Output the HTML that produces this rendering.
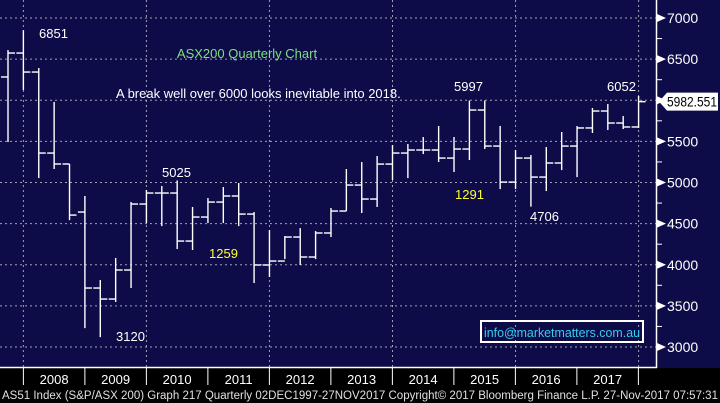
<!DOCTYPE html>
<html><head><meta charset="utf-8">
<style>
html,body{margin:0;padding:0;background:#000;}
svg{display:block;font-family:"Liberation Sans",sans-serif;}
</style></head>
<body>
<svg id="chart" width="720" height="403" viewBox="0 0 720 403" xmlns="http://www.w3.org/2000/svg">
<rect x="0" y="0" width="720" height="368" fill="#0e0c48"/>
<rect x="0" y="368" width="720" height="35" fill="#000"/>
<g id="grid"></g>
<g id="bars"></g>
<g id="axis"></g>
<text x="247" y="58" fill="#7fe07f" font-size="13" text-anchor="middle">ASX200 Quarterly Chart</text>
<text x="116" y="98" fill="#ffffff" font-size="13">A break well over 6000 looks inevitable into 2018.</text>
<text x="39" y="38" fill="#fff" font-size="13">6851</text>
<text x="162" y="177" fill="#fff" font-size="13">5025</text>
<text x="116" y="341" fill="#fff" font-size="13">3120</text>
<text x="209" y="258" fill="#ffff33" font-size="13">1259</text>
<text x="454" y="91" fill="#fff" font-size="13">5997</text>
<text x="455" y="199" fill="#ffff33" font-size="13">1291</text>
<text x="530" y="221" fill="#fff" font-size="13">4706</text>
<text x="607" y="91" fill="#fff" font-size="13">6052</text>
<rect x="481" y="321" width="162" height="21" fill="none" stroke="#fff" stroke-width="2"/>
<text x="484" y="337" fill="#33ccee" font-size="13" textLength="156" lengthAdjust="spacingAndGlyphs">info@marketmatters.com.au</text>
<text x="2" y="399" fill="#e0e0e0" font-size="11.5" textLength="716" lengthAdjust="spacingAndGlyphs">AS51 Index (S&amp;P/ASX 200) Graph 217  Quarterly 02DEC1997-27NOV2017  Copyright© 2017 Bloomberg Finance L.P.  27-Nov-2017 07:57:31</text>
</svg>
<script>
const quarters = ["2007Q3","2007Q4","2008Q1","2008Q2","2008Q3","2008Q4","2009Q1","2009Q2","2009Q3","2009Q4","2010Q1","2010Q2","2010Q3","2010Q4","2011Q1","2011Q2","2011Q3","2011Q4","2012Q1","2012Q2","2012Q3","2012Q4","2013Q1","2013Q2","2013Q3","2013Q4","2014Q1","2014Q2","2014Q3","2014Q4","2015Q1","2015Q2","2015Q3","2015Q4","2016Q1","2016Q2","2016Q3","2016Q4","2017Q1","2017Q2","2017Q3","2017Q4"];
const openVals  = [6283,6574,6343,5358,5225,4641,3717,3583,3936,4738,4872,4872,4288,4580,4762,4836,4616,3997,4045,4337,4094,4386,4653,4969,4799,5224,5358,5395,5395,5297,5407,5881,5443,5005,5297,5066,5237,5443,5663,5869,5723,5675];
const highVals  = [6610,6851,6392,5979,5225,4836,3814,4082,4763,4909,4957,5025,4702,4811,4945,4994,4641,4422,4349,4446,4410,4690,5164,5249,5322,5456,5468,5553,5687,5553,5997,5997,5687,5395,5334,5431,5614,5687,5906,5954,5808,6052];
const lowVals   = [5492,6125,5054,5164,4543,3230,3120,3547,3717,4507,4470,4191,4179,4507,4507,4470,3778,3851,4069,3997,4069,4337,4653,4629,4702,5030,5054,5346,5249,5127,5273,5407,4920,4920,4706,4896,5151,5066,5602,5638,5650,5663];
const closeVals = [6574,6343,5358,5225,4604,3717,3583,3936,4738,4872,4872,4288,4580,4762,4836,4616,3997,4045,4337,4094,4386,4653,4969,4799,5224,5358,5395,5395,5297,5407,5881,5443,5005,5297,5066,5237,5443,5663,5869,5723,5675,5983];
const yTicks = [3000,3500,4000,4500,5000,5500,6000,6500,7000];
const yearLabels = ["2008","2009","2010","2011","2012","2013","2014","2015","2016","2017"];
const lastValue = "5982.551";

const NS="http://www.w3.org/2000/svg";
const xQ = i => 8 + i*15.38;
const yV = v => 18 + (7000 - v)*0.08225;
function mk(tag, attrs, parent){const e=document.createElementNS(NS,tag);for(const k in attrs)e.setAttribute(k,attrs[k]);parent.appendChild(e);return e;}
const grid=document.getElementById('grid'), bars=document.getElementById('bars'), axis=document.getElementById('axis');

yTicks.forEach(v=>{
  const l=mk('line',{x1:0,x2:656,y1:yV(v),y2:yV(v),stroke:'#a0a0b0','stroke-width':1,'stroke-dasharray':'2,3'},grid);
  
  
});
for(let i=1;i<quarters.length;i+=8){
  const l=mk('line',{x1:xQ(i),x2:xQ(i),y1:0,y2:368,stroke:'#a0a0b0','stroke-width':1,'stroke-dasharray':'2,3'},grid);
  
  
}

quarters.forEach((q,i)=>{
  const x=xQ(i);
  const g=mk('g',{stroke:'#fff','stroke-width':1.4},bars);
  
  
  mk('line',{x1:x,x2:x,y1:yV(highVals[i]),y2:yV(lowVals[i])},g);
  mk('line',{x1:x-7,x2:x,y1:yV(openVals[i]),y2:yV(openVals[i])},g);
  mk('line',{x1:x,x2:x+7,y1:yV(closeVals[i]),y2:yV(closeVals[i])},g);
});

const ya=mk('line',{x1:656.5,x2:656.5,y1:0,y2:368,stroke:'#fff','stroke-width':1.5},axis);


const xa=mk('line',{x1:0,x2:657,y1:367.5,y2:367.5,stroke:'#fff','stroke-width':1.5},axis);


for(let v=2750; v<=7250; v+=250){
  const y=yV(v); if(y<2||y>366) continue;
  if(v%500===0){
    const p=mk('polygon',{points:`657,${y-4} 666,${y} 657,${y+4}`,fill:'#fff'},axis);
    
    
  } else {
    const t=mk('line',{x1:657,x2:662,y1:y,y2:y,stroke:'#fff','stroke-width':1},axis);
    
    
  }
}
yTicks.forEach(v=>{
  const t=mk('text',{x:667,y:yV(v)+5,fill:'#fff','font-size':14},axis);
  
  
  t.textContent=v;
});
const ly=yV(closeVals[closeVals.length-1]);
const lb=mk('polygon',{points:`659,${ly} 667,${ly-9} 718,${ly-9} 718,${ly+9} 667,${ly+9}`,fill:'#fff'},axis);


const lt=mk('text',{x:667,y:ly+5,fill:'#000','font-size':14,textLength:50,lengthAdjust:'spacingAndGlyphs'},axis);


lt.textContent=lastValue;
for(let k=0;k<=yearLabels.length;k++){
  const x=xQ(1)+k*61.5;
  const t=mk('line',{x1:x,x2:x,y1:368,y2:385,stroke:'#fff','stroke-width':1},axis);
  
  
}
yearLabels.forEach((yr,k)=>{
  const t=mk('text',{x:xQ(1)+k*61.5+30.75,y:384,fill:'#fff','font-size':13,'text-anchor':'middle'},axis);
  
  
  t.textContent=yr;
});
</script>
</body></html>
